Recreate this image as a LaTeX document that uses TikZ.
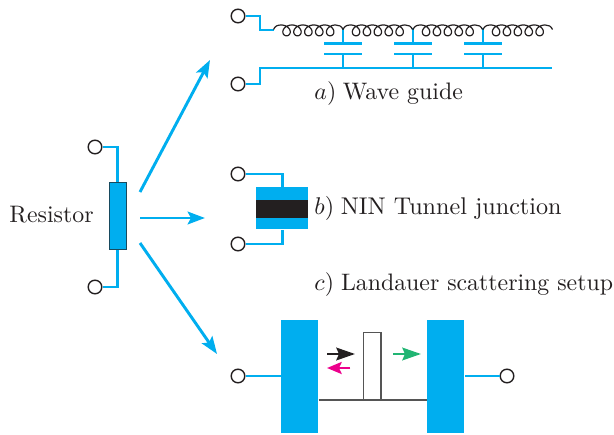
\documentclass[tikz,border=0pt]{standalone}
\usetikzlibrary{arrows.meta}
\definecolor{wirec}{HTML}{00AEEF}
\definecolor{inkc}{HTML}{231F20}
\definecolor{greenc}{HTML}{21B573}
\definecolor{pinkc}{HTML}{EC008C}
\definecolor{barc}{HTML}{555555}
\tikzset{
  term/.style={circle,draw=inkc,fill=white,line width=1.05pt,minimum size=10.2pt,inner sep=0pt},
  wire/.style={draw=wirec,line width=2.2pt},
  bigarrow/.style={draw=wirec,line width=2.2pt,-{Stealth[length=13pt,width=9.5pt,inset=2.5pt]}},
  smallarrow/.style={line width=1.9pt,-{Stealth[length=14pt,width=9.5pt,inset=2pt]}},
  lbl/.style={anchor=base west,inner sep=0pt,text=inkc,scale=1.79},
  block/.style={fill=wirec,draw=none,inner sep=0pt,anchor=north west},
  coilline/.style={draw=inkc,line width=0.9pt},
}
\newcommand{\coilsection}[1]{%
  \draw[coilline] (#1,29.5) .. controls (#1+1.5,26) and (#1+4,25) .. (#1+7.6,25)
    plot[domain=0:1800,samples=240,smooth,variable=\t] ({#1+7.6+\t/360*10.9+6.2*sin(\t)},{30.4-5.4*cos(\t)})
    .. controls (#1+65.5,25) and (#1+68,26) .. (#1+69.5,29.5);%
}
\begin{document}
\begin{tikzpicture}[x=0.75pt,y=-0.75pt]
\useasboundingbox (0,0) rectangle (614,435);
% terminals
\node[term] (wa) at (238,16) {};
\node[term] (wb) at (238,84) {};
\node[term] (ra) at (95,147) {};
\node[term] (rb) at (95,287) {};
\node[term] (na) at (238,174) {};
\node[term] (nb) at (238,244) {};
\node[term] (la) at (238,376) {};
\node[term] (lb) at (507,376) {};
% anchor points
\coordinate (coilstart) at (274,30);
\coordinate (railend) at (552,68);
\coordinate (up) at (140,192);
\coordinate (upend) at (210,60);
\coordinate (mid) at (140,218);
\coordinate (midend) at (205,218);
\coordinate (down) at (140,243);
\coordinate (downend) at (217,354);
% wave guide
\draw[wire] (wa.east) -- (260,16) -- (260,30) -- (coilstart);
\draw[wire] (wb.east) -- (260,84) -- (260,68) -- (railend);
\foreach \x in {343,413,483}{
  \draw[wire] (\x,28) -- (\x,43.5);
  \draw[wire] (\x-19,43.5) -- (\x+19,43.5);
  \draw[wire] (\x-19,54) -- (\x+19,54);
  \draw[wire] (\x,54) -- (\x,68);
}
\coilsection{273.5}
\coilsection{343}
\coilsection{413}
\coilsection{483}
% resistor
\node[draw=inkc!70!wirec,fill=wirec,line width=0.9pt,minimum width=12.6pt,minimum height=50.5pt,inner sep=0pt] (res) at (117.7,216) {};
\draw[wire] (ra.east) -| (res.north);
\draw[wire] (rb.east) -| (res.south);
\node[lbl] (rl) at (9,222) {Resistor};
% arrows
\draw[bigarrow] (up) -- (upend);
\draw[bigarrow] (mid) -- (midend);
\draw[bigarrow] (down) -- (downend);
% NIN
\node[block,minimum width=39pt,minimum height=31.5pt] (nin) at (256,187) {};
\node[block,fill=inkc,minimum width=39pt,minimum height=13pt] (ins) at (256,200) {};
\draw[wire] (na.east) -| (nin.north);
\draw[wire] (nb.east) -| (nin.south);
% Landauer
\node[block,minimum width=27.75pt,minimum height=84.75pt] (ll) at (281,320) {};
\node[block,minimum width=27.75pt,minimum height=84.75pt] (lr) at (427,320) {};
\draw[wire] (la.east) -- (ll.west |- la);
\draw[wire] (lb.west) -- (lr.east |- lb);
\node[draw=barc,fill=white,line width=0.9pt,minimum width=13pt,minimum height=50.25pt,inner sep=0pt,anchor=south] (bar) at (372.3,400) {};
\draw[barc,line width=0.9pt] (ll.east |- bar.south) -- (lr.west |- bar.south);
\coordinate (ka) at (327,354); \coordinate (kb) at (355,354);
\coordinate (pa) at (350,368); \coordinate (pb) at (327,368);
\coordinate (ga) at (393,354); \coordinate (gb) at (421,354);
\draw[smallarrow,draw=inkc,fill=inkc] (ka) -- (kb);
\draw[smallarrow,draw=pinkc,fill=pinkc,-{Stealth[length=11pt,width=9pt,inset=2pt]}] (pa) -- (pb);
\draw[smallarrow,draw=greenc,fill=greenc] (ga) -- (gb);
% labels
\node[lbl] (ta) at (314,99) {$a)$\hspace{-0.6pt} Wave guide};
\node[lbl,scale=1.012] (tb) at (314,214) {$b)$\hspace{-0.6pt} NIN Tunnel junction};
\node[lbl,scale=0.998] (tc) at (314,290) {$c)$\hspace{-0.4pt} Landauer scattering setup};
\end{tikzpicture}
\end{document}
